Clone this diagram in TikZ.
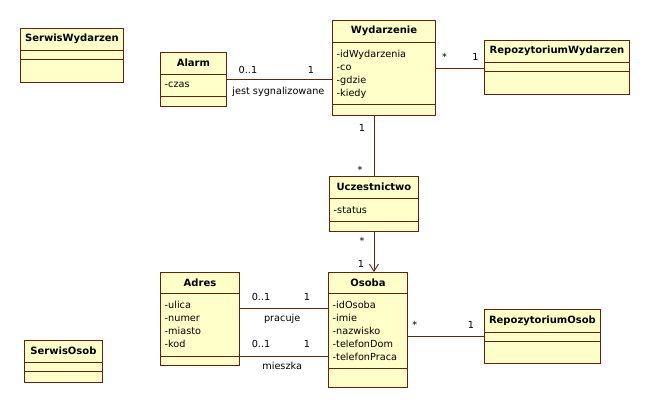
\documentclass[tikz,border=0pt]{standalone}
\usepackage{fontspec}
\setmainfont{DejaVu Sans}
\usetikzlibrary{arrows.meta}

\definecolor{klasaFill}{RGB}{255,255,202}
\definecolor{klasaLinia}{RGB}{104,32,12}

\tikzset{
  klasa/.style={draw=klasaLinia, fill=klasaFill, line width=0.9pt, inner sep=0pt, anchor=north west},
  podzial/.style={draw=klasaLinia, line width=0.9pt},
  tytul/.style={font=\fontsize{10}{12}\selectfont\bfseries, inner sep=0pt},
  atrybuty/.style={font=\fontsize{9.7}{13}\selectfont, align=left, inner sep=0pt, anchor=north west},
  asocjacja/.style={draw=klasaLinia, line width=0.9pt},
  krotnosc/.style={font=\fontsize{9.7}{12}\selectfont, inner sep=0pt},
}

\begin{document}
\begin{tikzpicture}[x=1pt, y=-1pt]
  \useasboundingbox (0,0) rectangle (650,408);

  % SerwisWydarzen
  \node[klasa, minimum width=103pt, minimum height=54pt] (serwisW) at (20,28) {};
  \draw[podzial] ([yshift=-22pt]serwisW.north west) -- ([yshift=-22pt]serwisW.north east);
  \draw[podzial] ([yshift=-31pt]serwisW.north west) -- ([yshift=-31pt]serwisW.north east);
  \node[tytul] (serwisWt) at ([yshift=-11pt]serwisW.north) {SerwisWydarzen};

  % Alarm
  \node[klasa, minimum width=66pt, minimum height=54pt] (alarm) at (160,52) {};
  \draw[podzial] ([yshift=-22pt]alarm.north west) -- ([yshift=-22pt]alarm.north east);
  \draw[podzial] ([yshift=-44pt]alarm.north west) -- ([yshift=-44pt]alarm.north east);
  \node[tytul] (alarmt) at ([yshift=-11pt]alarm.north) {Alarm};
  \node[atrybuty] (alarma) at ([xshift=4.5pt,yshift=-30pt]alarm.north west) {-czas};

  % Wydarzenie
  \node[klasa, minimum width=103pt, minimum height=95pt] (wyd) at (332,20) {};
  \draw[podzial] ([yshift=-22pt]wyd.north west) -- ([yshift=-22pt]wyd.north east);
  \draw[podzial] ([yshift=-84pt]wyd.north west) -- ([yshift=-84pt]wyd.north east);
  \node[tytul] (wydt) at ([yshift=-11pt]wyd.north) {Wydarzenie};
  \node[atrybuty] (wyda) at ([xshift=4.5pt,yshift=-30pt]wyd.north west)
    {-idWydarzenia\\-co\\-gdzie\\-kiedy};

  % RepozytoriumWydarzen
  \node[klasa, minimum width=145pt, minimum height=54pt] (repoW) at (484,40) {};
  \draw[podzial] ([yshift=-22pt]repoW.north west) -- ([yshift=-22pt]repoW.north east);
  \draw[podzial] ([yshift=-31pt]repoW.north west) -- ([yshift=-31pt]repoW.north east);
  \node[tytul] (repoWt) at ([yshift=-11pt]repoW.north) {RepozytoriumWydarzen};

  % Uczestnictwo
  \node[klasa, minimum width=89pt, minimum height=55pt] (ucz) at (329,176) {};
  \draw[podzial] ([yshift=-22pt]ucz.north west) -- ([yshift=-22pt]ucz.north east);
  \draw[podzial] ([yshift=-45pt]ucz.north west) -- ([yshift=-45pt]ucz.north east);
  \node[tytul] (uczt) at ([yshift=-11pt]ucz.north) {Uczestnictwo};
  \node[atrybuty] (ucza) at ([xshift=4.5pt,yshift=-30pt]ucz.north west) {-status};

  % Osoba
  \node[klasa, minimum width=79pt, minimum height=115pt] (osoba) at (328,272) {};
  \draw[podzial] ([yshift=-21pt]osoba.north west) -- ([yshift=-21pt]osoba.north east);
  \draw[podzial] ([yshift=-96pt]osoba.north west) -- ([yshift=-96pt]osoba.north east);
  \node[tytul] (osobat) at ([yshift=-10.5pt]osoba.north) {Osoba};
  \node[atrybuty] (osobaa) at ([xshift=4.5pt,yshift=-29pt]osoba.north west)
    {-idOsoba\\-imie\\-nazwisko\\-telefonDom\\-telefonPraca};

  % Adres
  \node[klasa, minimum width=79pt, minimum height=93pt] (adres) at (160,272) {};
  \draw[podzial] ([yshift=-21pt]adres.north west) -- ([yshift=-21pt]adres.north east);
  \draw[podzial] ([yshift=-84pt]adres.north west) -- ([yshift=-84pt]adres.north east);
  \node[tytul] (adrest) at ([yshift=-10.5pt]adres.north) {Adres};
  \node[atrybuty] (adresa) at ([xshift=4.5pt,yshift=-29pt]adres.north west)
    {-ulica\\-numer\\-miasto\\-kod};

  % RepozytoriumOsob
  \node[klasa, minimum width=116pt, minimum height=54pt] (repoO) at (484,309) {};
  \draw[podzial] ([yshift=-23pt]repoO.north west) -- ([yshift=-23pt]repoO.north east);
  \draw[podzial] ([yshift=-32pt]repoO.north west) -- ([yshift=-32pt]repoO.north east);
  \node[tytul] (repoOt) at ([yshift=-11.5pt]repoO.north) {RepozytoriumOsob};

  % SerwisOsob
  \node[klasa, minimum width=78pt, minimum height=42pt] (serwisO) at (24,340) {};
  \draw[podzial] ([yshift=-22pt]serwisO.north west) -- ([yshift=-22pt]serwisO.north east);
  \draw[podzial] ([yshift=-31pt]serwisO.north west) -- ([yshift=-31pt]serwisO.north east);
  \node[tytul] (serwisOt) at ([yshift=-11pt]serwisO.north) {SerwisOsob};

  % asocjacje
  \draw[asocjacja] (alarm.east) -- (alarm.east -| wyd.west)
    node[krotnosc, pos=.2, yshift=9pt] (mA1) {0..1}
    node[krotnosc, pos=.8, yshift=9pt] (mA2) {1}
    node[krotnosc, pos=.49, yshift=-12pt] (lA) {jest sygnalizowane};

  \draw[asocjacja] (wyd.east) -- (wyd.east -| repoW.west)
    node[krotnosc, pos=.18, yshift=11pt] (mW1) {*}
    node[krotnosc, pos=.82, yshift=11pt] (mW2) {1};

  \draw[asocjacja] (ucz.north |- wyd.south) -- (ucz.north)
    node[krotnosc, pos=.2, xshift=-12pt] (mU1) {1}
    node[krotnosc, pos=.9, xshift=-14pt] (mU2) {*};

  \draw[asocjacja, -{Straight Barb[length=7pt,width=9pt]}] (ucz.south) -- (ucz.south |- osoba.north)
    node[krotnosc, pos=.22, xshift=-12pt] (mO1) {*}
    node[krotnosc, pos=.8, xshift=-13pt] (mO2) {1};

  \draw[asocjacja] ([yshift=-36pt]adres.north east) -- ([yshift=-36pt]adres.north east -| osoba.west)
    node[krotnosc, pos=.24, yshift=11pt] (mP1) {0..1}
    node[krotnosc, pos=.76, yshift=11pt] (mP2) {1}
    node[krotnosc, pos=.48, yshift=-11pt] (lP) {pracuje};

  \draw[asocjacja] ([yshift=-84pt]adres.north east) -- ([yshift=-84pt]adres.north east -| osoba.west)
    node[krotnosc, pos=.24, yshift=12pt] (mM1) {0..1}
    node[krotnosc, pos=.76, yshift=12pt] (mM2) {1}
    node[krotnosc, pos=.48, yshift=-10pt] (lM) {mieszka};

  \draw[asocjacja] (repoO.west -| osoba.east) -- (repoO.west)
    node[krotnosc, pos=.09, yshift=12pt] (mR1) {*}
    node[krotnosc, pos=.83, yshift=11pt] (mR2) {1};
\end{tikzpicture}
\end{document}
